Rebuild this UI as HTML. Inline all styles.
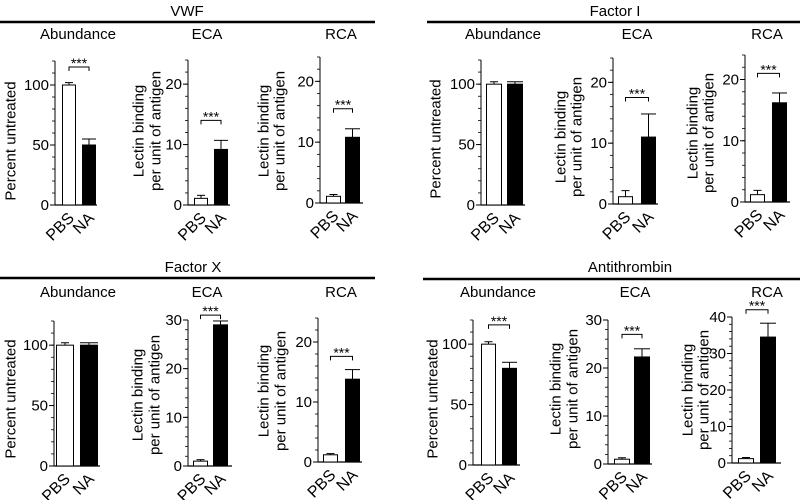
<!DOCTYPE html>
<html><head><meta charset="utf-8"><style>
html,body{margin:0;padding:0;background:#fff;}
svg{display:block;font-family:"Liberation Sans",Arial,sans-serif;}
</style></head><body>
<svg id="c" width="802" height="500" viewBox="0 0 802 500"></svg>
<script>
// data
const groupNames = ["VWF","Factor I","Factor X","Antithrombin"];
const panelTitles = ["Abundance","ECA","RCA"];
const categories = ["PBS","NA"];
const pbsValues = [100,1.1,1.1, 100,1.2,1.2, 100,1.0,1.2, 100,1.0,1.2];
const pbsErrors = [2,0.5,0.3, 2,1.0,0.7, 2,0.3,0.2, 2,0.3,0.3];
const naValues  = [50,9.2,10.8, 100,11,16.2, 100,29,13.8, 80,22.3,34.5];
const naErrors  = [5,1.5,1.4, 2,3.8,1.6, 2,0.8,1.6, 5,1.7,3.8];
const sigLevels = [115,14,15.5, null,17.5,21, null,31,17.6, 116,27,42];
const yMaxes = [120,24,24, 120,24,24, 120,30,24, 120,30,40];
const yTickLabels = [[0,50,100],[0,10,20],[0,10,20],[0,50,100],[0,10,20],[0,10,20],[0,50,100],[0,10,20,30],[0,10,20],[0,50,100],[0,10,20,30],[0,10,20,30,40]];
const minorSteps = [10,2,2, 10,2,2, 10,2,2, 10,2,2];

// layout (pixel geometry)
const layout = [
 {ax:55,top:61,zero:205,b1:62,b2:82,bw:14,end:97,lx:[10],ly:141},
 {ax:188,top:60,zero:205,b1:194,b2:214,bw:14,end:230,lx:[138,155],ly:131},
 {ax:320,top:57,zero:203,b1:326,b2:345,bw:15,end:363,lx:[263,279],ly:131},
 {ax:481,top:60,zero:205,b1:486,b2:507,bw:16,end:525,lx:[435],ly:139},
 {ax:613,top:58,zero:204,b1:618,b2:641,bw:15,end:658,lx:[560,576],ly:137},
 {ax:745,top:55,zero:202,b1:750,b2:772,bw:15,end:790,lx:[692,708],ly:133},
 {ax:54,top:321,zero:466,b1:56,b2:80,bw:18,end:100,lx:[10],ly:399},
 {ax:188,top:320,zero:466,b1:193,b2:213,bw:15,end:232,lx:[137,154],ly:395},
 {ax:318,top:318,zero:462,b1:323,b2:345,bw:15,end:362,lx:[263,280],ly:391},
 {ax:473,top:320,zero:465,b1:481,b2:502,bw:15,end:520,lx:[432],ly:399},
 {ax:608,top:320,zero:464,b1:614,b2:634,bw:16,end:652,lx:[555,572],ly:389},
 {ax:732,top:317,zero:463,b1:738,b2:760,bw:16,end:781,lx:[687,703],ly:390}
];
const groupLayout = [
 {cx:187,ty:16,ly:22,x1:0,x2:375,sy:39,sx:[78,207,341]},
 {cx:615,ty:16,ly:22,x1:427,x2:800,sy:39,sx:[503,637,767]},
 {cx:193,ty:272,ly:278,x1:0,x2:375,sy:297,sx:[78,207,341]},
 {cx:630,ty:272,ly:279,x1:423,x2:800,sy:297,sx:[498,635,767]}
];

const svg = document.getElementById('c');
const NS = "http://www.w3.org/2000/svg";
function mk(tag, attrs, parent){const e=document.createElementNS(NS,tag);for(const k in attrs)e.setAttribute(k,attrs[k]);(parent||svg).appendChild(e);return e;}

groupNames.forEach((g,gi)=>{
  const L = groupLayout[gi];
  const t = mk('text',{x:L.cx,y:L.ty,'text-anchor':'middle','font-size':15});
  t.textContent = g;
  
  
  const ln = mk('line',{x1:L.x1,x2:L.x2,y1:L.ly,y2:L.ly,stroke:'#000','stroke-width':2.5});
  
  
  panelTitles.forEach((p,pi)=>{
    const st = mk('text',{x:L.sx[pi],y:L.sy,'text-anchor':'middle','font-size':15});
    st.textContent = p;
    
    
  });
});

layout.forEach((P,i)=>{
  const g = mk('g',{});
  
  
  const ymax = yMaxes[i];
  const y = v => P.zero - (P.zero-P.top)*v/ymax;
  mk('line',{x1:P.ax,x2:P.ax,y1:P.top,y2:P.zero+0.5,stroke:'#000','stroke-width':1},g);
  const xa = mk('line',{x1:P.ax,x2:P.end,y1:P.zero,y2:P.zero,stroke:'#000','stroke-width':1.2},g);
  
  
  for(let v=0; v<=ymax+1e-9; v+=minorSteps[i]){
    mk('line',{x1:P.ax-3,x2:P.ax,y1:y(v),y2:y(v),stroke:'#000','stroke-width':0.8},g);
  }
  yTickLabels[i].forEach(v=>{
    mk('line',{x1:P.ax-5,x2:P.ax,y1:y(v),y2:y(v),stroke:'#000','stroke-width':1},g);
    const tl = mk('text',{x:P.ax-6,y:y(v)+5,'text-anchor':'end','font-size':15},g);
    tl.textContent = v;
    
    
  });
  const lines = P.lx.length===1 ? ["Percent untreated"] : ["Lectin binding","per unit of antigen"];
  lines.forEach((s,k)=>{
    const yl = mk('text',{x:P.lx[k],y:P.ly,'text-anchor':'middle','font-size':15,transform:`rotate(-90 ${P.lx[k]} ${P.ly})`,dy:'0.35em'},g);
    yl.textContent = s;
    
    
  });
  const vals=[pbsValues[i],naValues[i]], errs=[pbsErrors[i],naErrors[i]], xs=[P.b1,P.b2];
  vals.forEach((v,k)=>{
    const cx = xs[k]+P.bw/2;
    mk('line',{x1:cx,x2:cx,y1:y(v),y2:y(v+errs[k]),stroke:'#000','stroke-width':1},g);
    mk('line',{x1:cx-(k?P.bw/2:4),x2:cx+(k?P.bw/2:4),y1:y(v+errs[k]),y2:y(v+errs[k]),stroke:'#000','stroke-width':1},g);
    const r = mk('rect',{x:xs[k]+0.5,y:y(v),width:P.bw-1,height:P.zero-y(v),fill:k?'#000':'#fff',stroke:'#000','stroke-width':1},g);
    
    
    const axp = cx+6, ayp = P.zero+14;
    const xl = mk('text',{x:axp,y:ayp,'text-anchor':'end','font-size':16,transform:`rotate(-45 ${axp} ${ayp})`},g);
    xl.textContent = categories[k];
    
    
  });
  if(sigLevels[i]!==null){
    const sy = y(sigLevels[i]);
    const c1 = P.b1+P.bw/2, c2 = P.b2+P.bw/2;
    const br = mk('path',{d:`M${c1} ${sy+4}V${sy}H${c2}V${sy+4}`,fill:'none',stroke:'#000','stroke-width':1},g);
    
    
    const s = mk('text',{x:(c1+c2)/2,y:sy+1,'text-anchor':'middle','font-size':14},g);
    s.textContent='***';
    
    
  }
});
</script>
</body></html>
